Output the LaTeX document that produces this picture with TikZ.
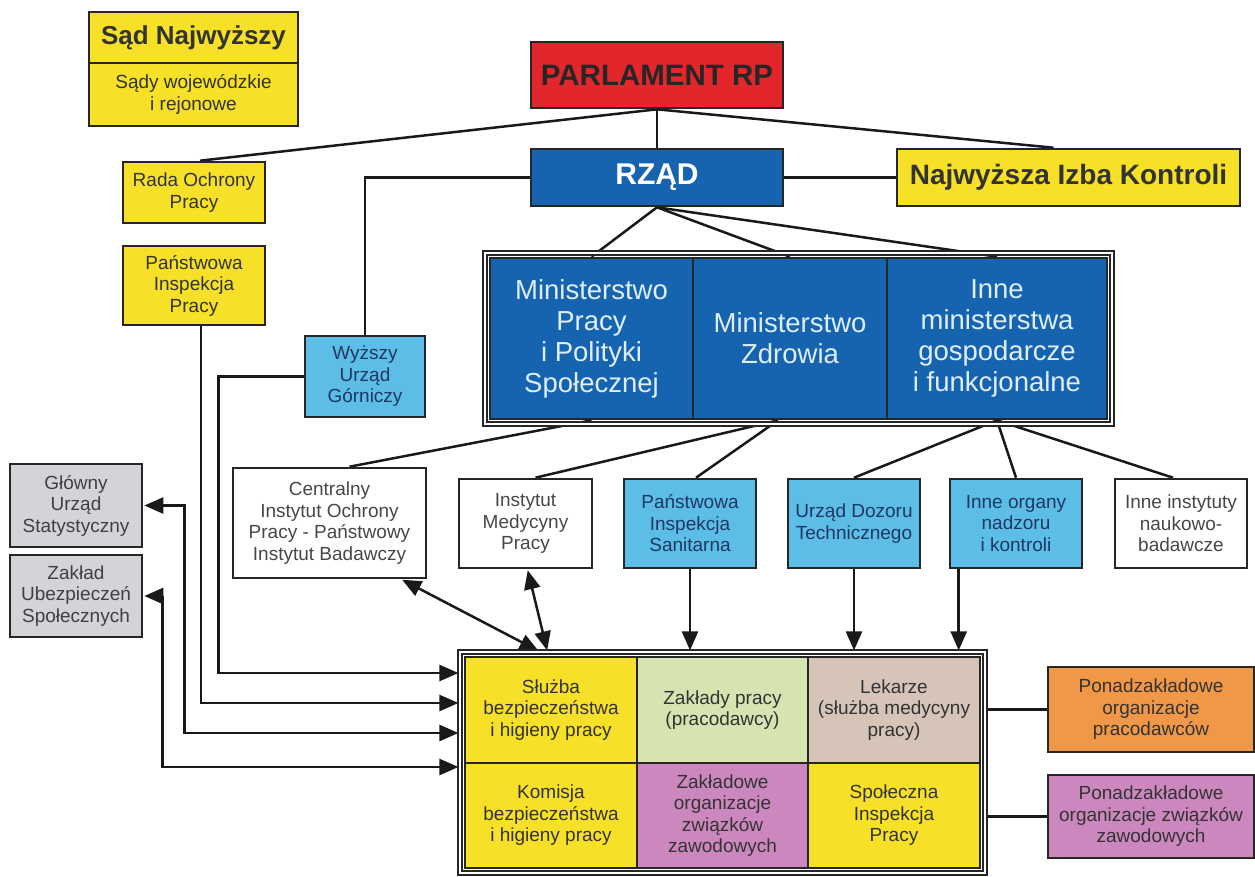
\documentclass[tikz,border=0pt]{standalone}
\usepackage{fontspec}
\setmainfont{Liberation Sans}
\usetikzlibrary{arrows.meta,fit,backgrounds}

\definecolor{yellowbox}{RGB}{246,224,40}
\definecolor{redbox}{RGB}{226,38,44}
\definecolor{bluebox}{RGB}{22,100,176}
\definecolor{lightbluebox}{RGB}{92,190,230}
\definecolor{graybox}{RGB}{212,212,216}
\definecolor{greenbox}{RGB}{214,228,178}
\definecolor{tanbox}{RGB}{214,196,184}
\definecolor{pinkbox}{RGB}{204,136,190}
\definecolor{orangebox}{RGB}{240,152,72}
\definecolor{navytext}{RGB}{30,55,100}
\definecolor{ministrytext}{RGB}{222,238,250}

\begin{document}
\begin{tikzpicture}[x=1pt,y=-1pt,
    sz/.style 2 args={minimum width=#1pt,minimum height=#2pt},
    box/.style={draw=black!85,line width=2.6pt,inner sep=2pt,align=center,
        font=\fontsize{19}{21.5}\selectfont,text=black!80},
    ybox/.style={box,fill=yellowbox},
    lbbox/.style={box,fill=lightbluebox,text=navytext},
    wbox/.style={box,fill=white,text=black!72},
    gbox/.style={box,fill=graybox,text=black!75},
    minbox/.style={box,fill=bluebox,text=ministrytext,
        font=\fontsize{27.5}{31}\selectfont},
    frame/.style={draw=black!85,line width=1.6pt,double=white,
        double distance=2.5pt,inner sep=3.5pt},
    conn/.style={line width=2.5pt,draw=black!90},
    arr/.style={conn,-{Triangle[length=19pt,width=16pt]},shorten >=1pt},
    darr/.style={conn,{Triangle[length=19pt,width=16pt]}-{Triangle[length=19pt,width=16pt]},shorten >=1pt,shorten <=1pt}]

    \useasboundingbox (0,0) rectangle (1255,876);

    \node[ybox,sz={209}{51},font=\bfseries\fontsize{26}{30}\selectfont] (sadn) at (193.5,37.5) {Sąd Najwyższy};
    \node[ybox,sz={209}{63}] (sady) at (193.5,94.5) {Sądy wojewódzkie\\i rejonowe};

    \node[box,fill=redbox,sz={252}{66},text=black!85,font=\bfseries\fontsize{29.5}{33}\selectfont] (parl) at (657,75) {PARLAMENT RP};
    \node[box,fill=bluebox,sz={252}{57},text=white,font=\bfseries\fontsize{30}{34}\selectfont] (rzad) at (657,177.5) {RZĄD};
    \node[ybox,sz={343}{57},font=\bfseries\fontsize{28}{32}\selectfont] (nik) at (1068.5,177.5) {Najwyższa Izba Kontroli};

    \node[ybox,sz={142}{61}] (rada) at (194,192.5) {Rada Ochrony\\Pracy};
    \node[ybox,sz={142}{79}] (pip) at (194,285.5) {Państwowa\\Inspekcja\\Pracy};
    \node[lbbox,sz={120}{81}] (wug) at (365,376.5) {Wyższy\\Urząd\\Górniczy};

    \node[minbox,sz={203}{161}] (mpips) at (591.5,338.5) {Ministerstwo\\Pracy\\i Polityki\\Społecznej};
    \node[minbox,sz={194}{161}] (mz) at (790,338.5) {Ministerstwo\\Zdrowia};
    \node[minbox,sz={220}{161}] (inne) at (997,338.5) {Inne\\ministerstwa\\gospodarcze\\i funkcjonalne};
    \node[frame,fit=(mpips)(inne)] (mframe) {};

    \node[gbox,sz={132}{83}] (gus) at (76,505.5) {Główny\\Urząd\\Statystyczny};
    \node[gbox,sz={132}{82}] (zus) at (76,596) {Zakład\\Ubezpieczeń\\Społecznych};

    \node[wbox,sz={193}{110}] (cio) at (329.5,523) {Centralny\\Instytut Ochrony\\Pracy - Państwowy\\Instytut Badawczy};
    \node[wbox,sz={133}{89}] (imp) at (525.5,523.5) {Instytut\\Medycyny\\Pracy};
    \node[lbbox,sz={132}{89}] (pis) at (690,523.5) {Państwowa\\Inspekcja\\Sanitarna};
    \node[lbbox,sz={132}{89}] (udt) at (854,523.5) {Urząd Dozoru\\Technicznego};
    \node[lbbox,sz={132}{89}] (ionk) at (1016,523.5) {Inne organy\\nadzoru\\i kontroli};
    \node[wbox,sz={132}{89}] (iinb) at (1181,523.5) {Inne instytuty\\naukowo-\\badawcze};

    \node[ybox,sz={172}{106}] (bhp) at (551,710) {Służba\\bezpieczeństwa\\i higieny pracy};
    \node[box,fill=greenbox,sz={171}{106}] (zpr) at (722.5,710) {Zakłady pracy\\(pracodawcy)};
    \node[box,fill=tanbox,sz={172}{106}] (lek) at (894,710) {Lekarze\\(służba medycyny\\pracy)};
    \node[ybox,sz={172}{105}] (kom) at (551,815.5) {Komisja\\bezpieczeństwa\\i higieny pracy};
    \node[box,fill=pinkbox,sz={171}{105}] (zoz) at (722.5,815.5) {Zakładowe\\organizacje\\związków\\zawodowych};
    \node[ybox,sz={172}{105}] (sip) at (894,815.5) {Społeczna\\Inspekcja\\Pracy};
    \node[frame,fit=(bhp)(sip)] (gframe) {};

    \node[box,fill=orangebox,sz={206}{85}] (ppr) at (1151,709.5) {Ponadzakładowe\\organizacje\\pracodawców};
    \node[box,fill=pinkbox,sz={206}{83}] (pzz) at (1151,816.5) {Ponadzakładowe\\organizacje związków\\zawodowych};

    \begin{scope}[on background layer]
        \draw[conn] (parl.south) -- (rzad.north);
        \draw[conn] (parl.south) -- ([xshift=6pt]rada.north);
        \draw[conn] (parl.south) -- ([xshift=-15pt]nik.north);
        \draw[conn] (rzad.east) -- (nik.west);
        \draw[conn] (rzad.west) -| (wug.north);
        \foreach \m in {mpips,mz,inne}
            \draw[conn] (rzad.south) -- (\m.north);

        \draw[conn] (mpips.south) -- ([xshift=20pt]cio.north);
        \draw[conn] ([xshift=-12pt]mz.south) -- ([xshift=10pt]imp.north);
        \draw[conn] ([xshift=-12pt]mz.south) -- ([xshift=6pt]pis.north);
        \draw[conn] (inne.south) -- (udt.north);
        \draw[conn] (inne.south) -- (ionk.north);
        \draw[conn] (inne.south) -- ([xshift=-8pt]iinb.north);

        \draw[arr] (pis.south) -- (pis.south |- gframe.north);
        \draw[arr] (udt.south) -- (udt.south |- gframe.north);
        \draw[arr] ([xshift=10pt]ionk.south west) -- ([xshift=10pt]ionk.south west |- gframe.north);
        \draw[darr] ([xshift=-26pt]cio.south east) -- ([xshift=80pt]gframe.north west);
        \draw[darr] ([xshift=2pt]imp.south) -- ([xshift=88pt]gframe.north west);

        \draw[arr] (wug.west) -- ++(-85,0) |- (gframe.west |- 0,673);
        \draw[arr] ([xshift=7pt]pip.south) |- (gframe.west |- 0,703);
        \draw[darr] (gus.east) -- ++(41,0) |- (gframe.west |- 0,733);
        \draw[darr] (zus.east) -- ++(19,0) |- (gframe.west |- 0,767);

        \draw[conn] (gframe.east |- ppr.west) -- (ppr.west);
        \draw[conn] (gframe.east |- pzz.west) -- (pzz.west);
    \end{scope}
\end{tikzpicture}
\end{document}
